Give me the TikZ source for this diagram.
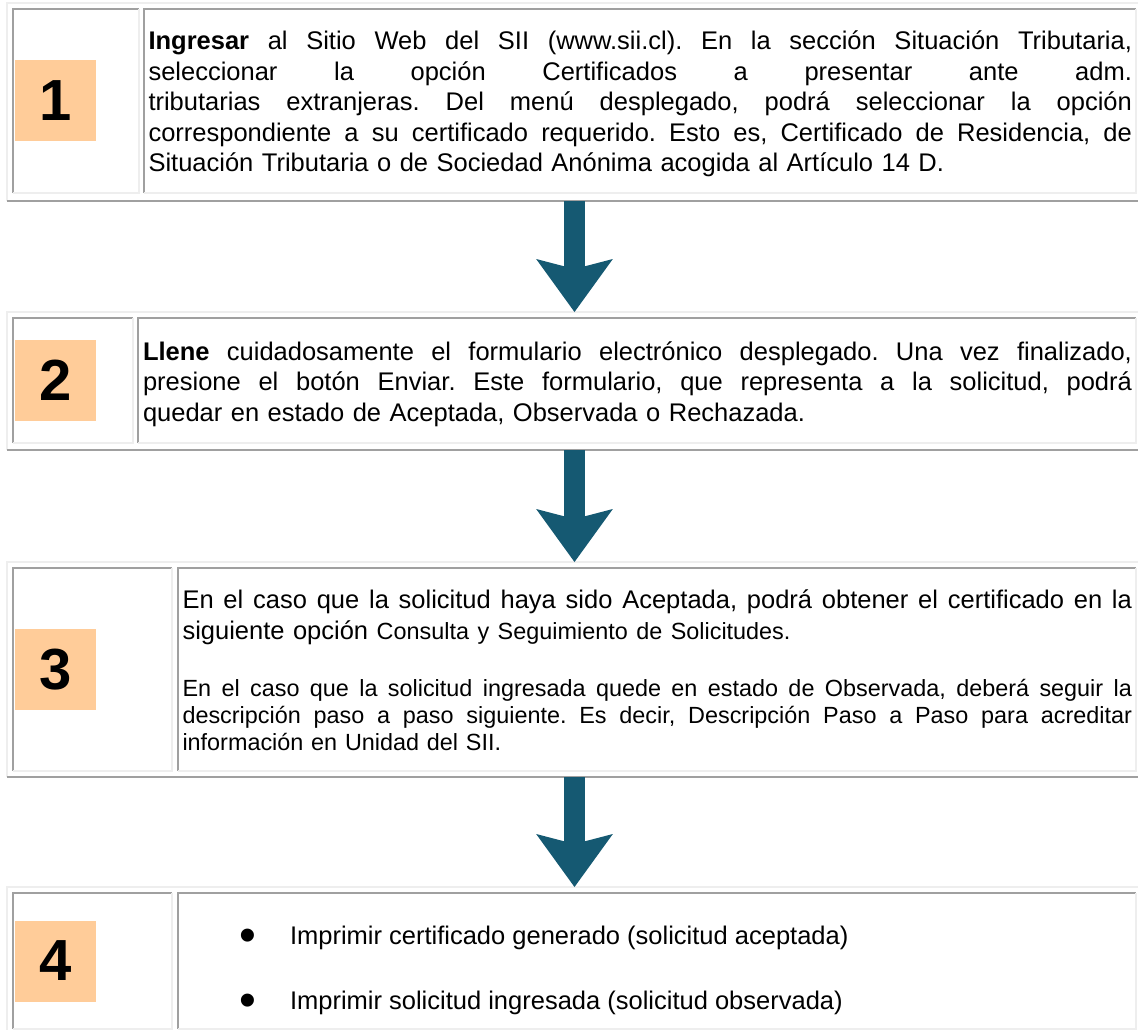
\documentclass[tikz,border=0pt]{standalone}
\usepackage{fontspec}
\setmainfont{Liberation Sans}
\usetikzlibrary{arrows.meta,positioning}

\definecolor{edgedark}{RGB}{160,160,160}
\definecolor{edgelight}{RGB}{238,238,238}
\definecolor{stepfill}{RGB}{255,204,153}
\definecolor{flowblue}{RGB}{21,89,114}

% raised / sunken borders of a table or cell
\newcommand{\bevel}[3]{%
  \draw[#2] (#1.south west) -- (#1.north west) -- (#1.north east);
  \draw[#3] (#1.north east) -- (#1.south east) -- (#1.south west);}
% one justified line
\newcommand{\jline}[1]{\leavevmode\hbox to\hsize{\spaceskip=.278em plus 1fil\relax #1}\\}
\newcommand{\listdot}{\makebox[50.5pt][l]{\raisebox{-7pt}{\fontsize{48}{48}\selectfont\textbullet}}}
\newcommand{\bodysz}{\fontsize{25.5}{30.5}\selectfont\frenchspacing}
\newcommand{\smallsz}{\fontsize{23.4}{27}\selectfont\frenchspacing}

\begin{document}
\begin{tikzpicture}[x=1pt,y=-1pt,
  every node/.style={inner sep=0pt,outer sep=0pt},
  tbl/.style={anchor=north west,minimum width=1135pt},
  cellbox/.style={anchor=north west},
  dk/.style={draw=edgedark,line width=1.6pt},
  lt/.style={draw=edgelight,line width=1.6pt},
  numsq/.style={fill=stepfill,minimum size=81pt,font=\fontsize{58}{58}\selectfont\bfseries},
  txt/.style={anchor=base west,align=left,font=\bodysz},
  flow/.style={draw=flowblue,line width=21.7pt,-{Stealth[length=53pt,width=76.7pt,inset=10pt,line width=0pt]}}]
\useasboundingbox (0,0) rectangle (1138,1030);

% step 1
\node[tbl,minimum height=198pt] (t1) at (7,3) {};
\node[cellbox,minimum width=126pt,minimum height=184pt] (c1a) at (13,9) {};
\node[cellbox,minimum width=992pt,minimum height=184pt] (c1b) at (144,9) {};
\bevel{t1}{lt}{dk}\bevel{c1a}{dk}{lt}\bevel{c1b}{dk}{lt}
\node[numsq,right=2pt of c1a.west] (n1) {1};
\node[txt,text width=983.5pt] (x1) at (148.5,50) {%
\jline{\textbf{Ingresar} al Sitio Web del SII (www.sii.cl). En la sección Situación Tributaria,}
\jline{seleccionar la opción Certificados a presentar ante adm.}
\jline{tributarias extranjeras. Del menú desplegado, podrá seleccionar la opción}
\jline{correspondiente a su certificado requerido. Esto es, Certificado de Residencia, de}
Situación Tributaria o de Sociedad Anónima acogida al Artículo 14 D.};

% step 2
\node[tbl,minimum height=138pt] (t2) at (7,312) {};
\node[cellbox,minimum width=120pt,minimum height=125pt] (c2a) at (13,318) {};
\node[cellbox,minimum width=998pt,minimum height=125pt] (c2b) at (138,318) {};
\bevel{t2}{lt}{dk}\bevel{c2a}{dk}{lt}\bevel{c2b}{dk}{lt}
\node[numsq,right=2pt of c2a.west] (n2) {2};
\node[txt,text width=989pt] (x2) at (143,360) {%
\jline{\textbf{Llene} cuidadosamente el formulario electrónico desplegado. Una vez finalizado,}
\jline{presione el botón Enviar. Este formulario, que representa a la solicitud, podrá}
quedar en estado de Aceptada, Observada o Rechazada.};

% step 3
\node[tbl,minimum height=215pt] (t3) at (7,562) {};
\node[cellbox,minimum width=159pt,minimum height=203pt] (c3a) at (13,568) {};
\node[cellbox,minimum width=958pt,minimum height=203pt] (c3b) at (178,568) {};
\bevel{t3}{lt}{dk}\bevel{c3a}{dk}{lt}\bevel{c3b}{dk}{lt}
\node[numsq,right=2pt of c3a.west] (n3) {3};
\node[txt,text width=949.5pt] (x3a) at (182.5,608.5) {%
\jline{En el caso que la solicitud haya sido Aceptada, podrá obtener el certificado en la}
siguiente opción {\smallsz Consulta y Seguimiento de Solicitudes.}};
\node[txt,text width=949.5pt,font=\smallsz] (x3b) at (182.5,696) {%
\jline{En el caso que la solicitud ingresada quede en estado de Observada, deberá seguir la}
\jline{descripción paso a paso siguiente. Es decir, Descripción Paso a Paso para acreditar}
información en Unidad del SII.};

% step 4
\node[tbl,minimum height=149pt] (t4) at (7,887) {};
\node[cellbox,minimum width=159pt,minimum height=136pt] (c4a) at (13,893) {};
\node[cellbox,minimum width=958pt,minimum height=136pt] (c4b) at (178,893) {};
\bevel{t4}{lt}{dk}\bevel{c4a}{dk}{lt}\bevel{c4b}{dk}{lt}
\node[numsq,right=2pt of c4a.west] (n4) {4};
\node[txt] (x4a) at (239.5,944) {\listdot Imprimir certificado generado (solicitud aceptada)};
\node[txt] (x4b) at (239.5,1009) {\listdot Imprimir solicitud ingresada (solicitud observada)};

% arrows between the steps
\draw[flow] (t1.south) -- (t2.north);
\draw[flow] (t2.south) -- (t3.north);
\draw[flow] (t3.south) -- (t4.north);
\end{tikzpicture}
\end{document}
